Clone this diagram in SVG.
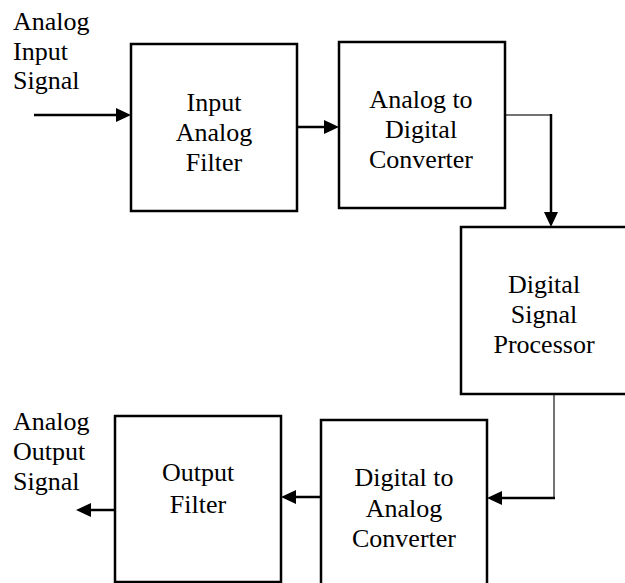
<svg xmlns="http://www.w3.org/2000/svg" width="625" height="583" viewBox="0 0 625 583">
  <style>
    .box { fill: #fff; stroke: #000; stroke-width: 2.5; }
    .lbl { font-family: "Liberation Serif", "Times New Roman", serif; font-size: 26px; fill: #000; }
    .mid { text-anchor: middle; }
    .wire { fill: none; stroke: #000; stroke-width: 2.5; }
    .thin { fill: none; stroke: #444; stroke-width: 1.5; }
    .arrow { marker-end: url(#head); }
  </style>
  <defs>
    <marker id="head" viewBox="0 0 15 14" refX="10" refY="7" markerWidth="15" markerHeight="14" markerUnits="userSpaceOnUse" orient="auto">
      <path d="M0,0 L15,7 L0,14 z" fill="#000"/>
    </marker>
  </defs>
  <rect width="625" height="583" fill="#fff"/>

  <!-- signal path connectors -->
  <g id="connectors">
    <path class="wire arrow" d="M34,115 H126"/>
    <path class="wire arrow" d="M297,127 H334"/>
    <path class="thin" d="M505,115 H551"/>
    <path class="wire arrow" d="M551,114 V222"/>
    <path class="thin" d="M554,394 V498"/>
    <path class="wire arrow" d="M555,498 H492"/>
    <path class="wire arrow" d="M321,497 H286"/>
    <path class="wire arrow" d="M115,510 H81"/>
  </g>

  <!-- free-standing signal labels -->
  <g id="input-label">
    <text class="lbl" x="13" y="30">Analog</text>
    <text class="lbl" x="13" y="60">Input</text>
    <text class="lbl" x="13" y="89">Signal</text>
  </g>
  <g id="output-label">
    <text class="lbl" x="13" y="430">Analog</text>
    <text class="lbl" x="13" y="460">Output</text>
    <text class="lbl" x="13" y="490">Signal</text>
  </g>

  <g id="input-filter">
    <rect class="box" x="131" y="44" width="166" height="167"/>
    <text class="lbl mid" x="214" y="110.5">Input</text>
    <text class="lbl mid" x="214" y="140.5">Analog</text>
    <text class="lbl mid" x="214" y="170.5">Filter</text>
  </g>

  <g id="adc">
    <rect class="box" x="339" y="42" width="166" height="166"/>
    <text class="lbl mid" x="421" y="108">Analog to</text>
    <text class="lbl mid" x="421" y="138">Digital</text>
    <text class="lbl mid" x="421" y="168">Converter</text>
  </g>

  <g id="dsp">
    <rect class="box" x="461" y="227" width="175" height="167"/>
    <text class="lbl mid" x="544" y="293">Digital</text>
    <text class="lbl mid" x="544" y="323">Signal</text>
    <text class="lbl mid" x="544" y="353">Processor</text>
  </g>

  <g id="dac">
    <rect class="box" x="321" y="420" width="166" height="180"/>
    <text class="lbl mid" x="404" y="486">Digital to</text>
    <text class="lbl mid" x="404" y="516.5">Analog</text>
    <text class="lbl mid" x="404" y="546.5">Converter</text>
  </g>

  <g id="output-filter">
    <rect class="box" x="115" y="416" width="166" height="166"/>
    <text class="lbl mid" x="198" y="481">Output</text>
    <text class="lbl mid" x="198" y="513">Filter</text>
  </g>
</svg>
